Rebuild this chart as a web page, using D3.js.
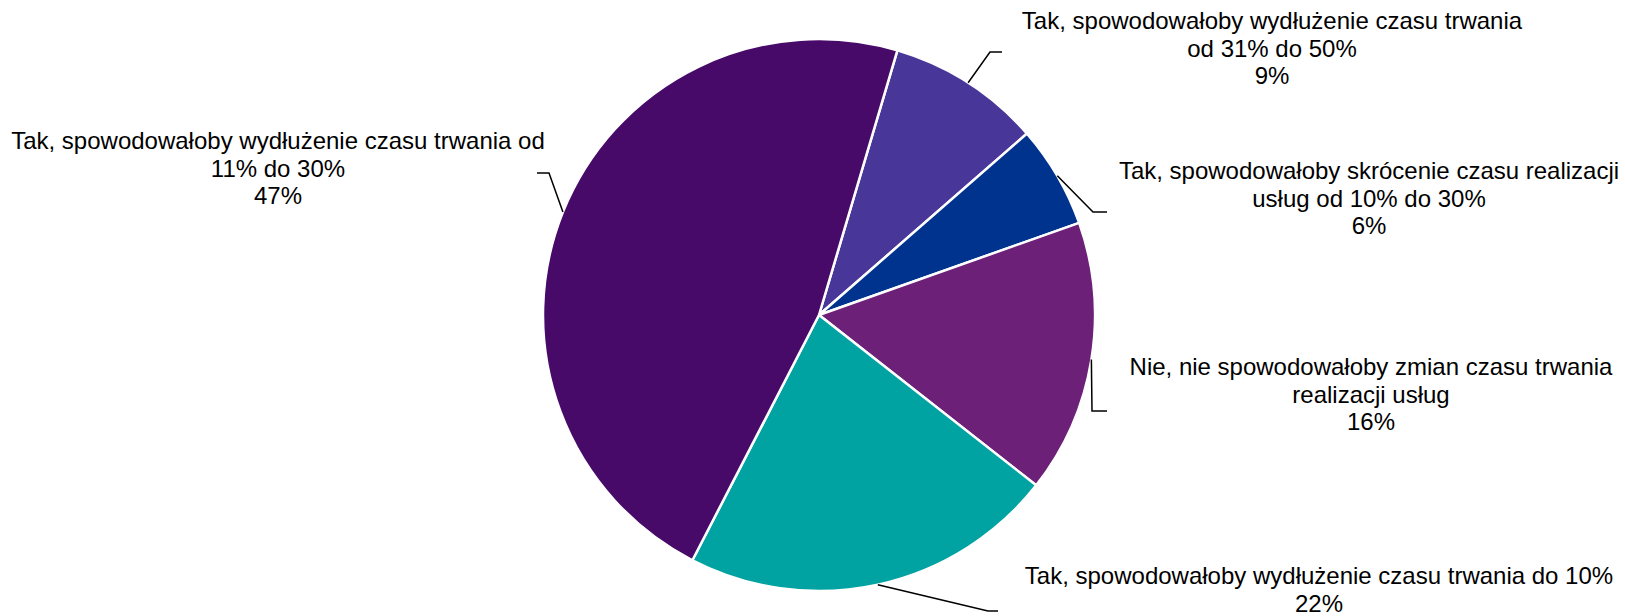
<!DOCTYPE html>
<html>
<head>
<meta charset="utf-8">
<script src="https://cdn.jsdelivr.net/npm/d3@7"></script>
<style>
  body { margin: 0; background: #fff; }
  text { font-family: "Liberation Sans", Arial, sans-serif; font-size: 24px; fill: #000; }
</style>
</head>
<body>
<svg id="chart" width="1625" height="616"></svg>
<script>
// Survey answers, in clockwise order starting just right of 12 o'clock
const categories = [
  "Tak, spowodowałoby wydłużenie czasu trwania od 31% do 50%",
  "Tak, spowodowałoby skrócenie czasu realizacji usług od 10% do 30%",
  "Nie, nie spowodowałoby zmian czasu trwania realizacji usług",
  "Tak, spowodowałoby wydłużenie czasu trwania do 10%",
  "Tak, spowodowałoby wydłużenie czasu trwania od 11% do 30%"
];
const values = [9, 6, 16, 22, 47];
const sliceColors = ["#483698", "#00338D", "#6D2077", "#00A3A1", "#470A68"];

// Label text broken into lines as printed
const labelLines = [
  ["Tak, spowodowałoby wydłużenie czasu trwania", "od 31% do 50%"],
  ["Tak, spowodowałoby skrócenie czasu realizacji", "usług od 10% do 30%"],
  ["Nie, nie spowodowałoby zmian czasu trwania", "realizacji usług"],
  ["Tak, spowodowałoby wydłużenie czasu trwania do 10%"],
  ["Tak, spowodowałoby wydłużenie czasu trwania od", "11% do 30%"]
];

// Label placement: text centre x, first baseline y, leader elbow and end
const labelLayout = [
  { x: 1272, y: 29,  elbow: [990, 52],  end: [1002, 52] },
  { x: 1369, y: 179, elbow: [1093, 212], end: [1107, 212] },
  { x: 1371, y: 375, elbow: [1092, 411], end: [1107, 411] },
  { x: 1319, y: 584, elbow: [988, 611],  end: [998, 611] },
  { x: 278,  y: 149, elbow: [549, 173],  end: [537, 173] }
];

const cx = 819, cy = 315, radius = 276;
const startAngle = 16.5 * Math.PI / 180;
const lineHeight = 27.6;

const svg = d3.select("#chart");
const g = svg.append("g").attr("transform", `translate(${cx},${cy})`);

const pie = d3.pie()
  .sort(null)
  .value(d => d.value)
  .startAngle(startAngle)
  .endAngle(startAngle + 2 * Math.PI);

const data = values.map((v, i) => ({ value: v, name: categories[i], color: sliceColors[i], lines: labelLines[i], layout: labelLayout[i] }));
const arcs = pie(data);

const arc = d3.arc().innerRadius(0).outerRadius(radius);

g.selectAll("path.slice")
  .data(arcs)
  .join("path")
  .attr("class", "slice")
  .attr("d", arc)
  .attr("fill", d => d.data.color)
  .attr("stroke", "#fff")
  .attr("stroke-width", 2.5)
  .attr("stroke-linejoin", "round");

// Leader lines from the rim at each slice's mid angle
const rimPoint = d => {
  const a = (d.startAngle + d.endAngle) / 2;
  return [cx + radius * Math.sin(a), cy - radius * Math.cos(a)];
};

svg.selectAll("polyline.leader")
  .data(arcs)
  .join("polyline")
  .attr("class", "leader")
  .attr("points", d => [rimPoint(d), d.data.layout.elbow, d.data.layout.end].map(p => p.join(",")).join(" "))
  .attr("fill", "none")
  .attr("stroke", "#000")
  .attr("stroke-width", 1.5);

const labels = svg.selectAll("text.label")
  .data(arcs)
  .join("text")
  .attr("class", "label")
  .attr("text-anchor", "middle")
  .attr("x", d => d.data.layout.x)
  .attr("y", d => d.data.layout.y);

labels.each(function(d) {
  const t = d3.select(this);
  const lines = d.data.lines.concat([d3.format(".0f")(d.data.value) + "%"]);
  lines.forEach((s, i) => {
    t.append("tspan")
      .attr("x", d.data.layout.x)
      .attr("dy", i === 0 ? 0 : lineHeight)
      .text(s);
  });
});
</script>
</body>
</html>
